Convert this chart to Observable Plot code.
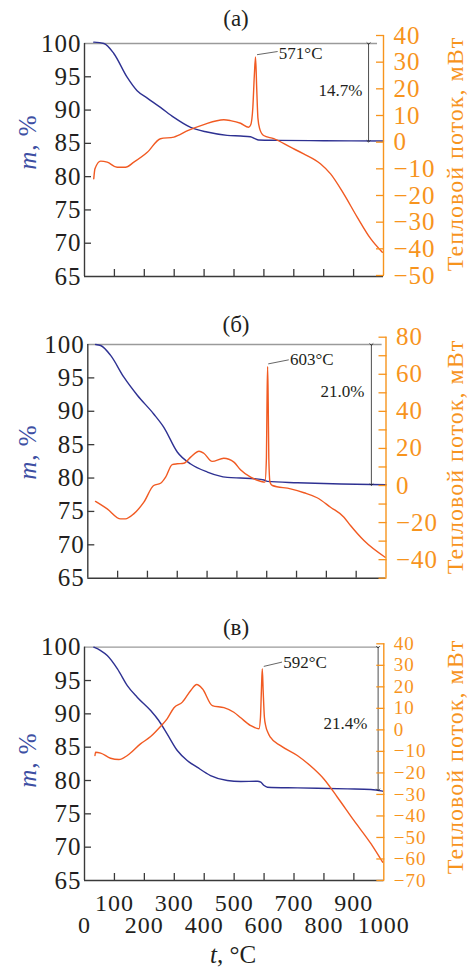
<!DOCTYPE html>
<html><head><meta charset="utf-8">
<script src="https://cdn.jsdelivr.net/npm/d3@7"></script>
<script src="https://cdn.jsdelivr.net/npm/@observablehq/plot@0.6"></script>
<style>
body{margin:0;background:#fff;}
#wrap{position:relative;width:469px;height:967px;overflow:hidden;font-family:"Liberation Serif","Times New Roman",Tinos,Times,serif;color:#231f20;}
#wrap svg{position:absolute;left:0;top:0;}
#wrap [aria-label$="tick label"] text{letter-spacing:1px;}
.lbl{position:absolute;white-space:nowrap;transform:translate(-50%,-50%);line-height:1;}
.rot{transform:translate(-50%,-50%) rotate(-90deg);}
</style></head><body><div id="wrap"></div>
<script>
// ---------- data ----------
const panelTitles = ["(а)", "(б)", "(в)"];
const massTicks = [65, 70, 75, 80, 85, 90, 95, 100];
const massInnerTicks = [70, 75, 80, 85, 90, 95];
const xTicks = [100, 200, 300, 400, 500, 600, 700, 800, 900];
const xLabelsOdd = [100, 300, 500, 700, 900];
const xLabelsEven = [0, 200, 400, 600, 800, 1000];
const heatTicksA = [-50, -40, -30, -20, -10, 0, 10, 20, 30, 40];
const heatTicksB = [-50, -40, -30, -20, -10, 0, 10, 20, 30, 40, 50, 60, 70, 80];
const heatLabelsB = [-40, -20, 0, 20, 40, 60, 80];
const heatTicksC = [-70, -60, -50, -40, -30, -20, -10, 0, 10, 20, 30, 40];
const peakLabels = ["571°C", "603°C", "592°C"];
const lossLabels = ["14.7%", "21.0%", "21.4%"];
const finalMass = [85.3, 79.0, 78.6];

// panel (а)
const tMassA = [31, 65, 98, 143, 176, 210, 254, 299, 355, 410, 477, 522, 555, 570, 582, 650, 800, 1000];
const massA  = [100.2, 100, 98.5, 94.9, 92.9, 91.8, 90.4, 88.9, 87.4, 86.7, 86.2, 86.1, 86.0, 85.7, 85.5, 85.45, 85.4, 85.35];
const tHeatA = [31, 35, 54, 76, 109, 137, 165, 210, 254, 299, 347, 399, 466, 488, 522, 549, 556, 563, 568, 572, 576, 580, 586, 599, 633, 689, 733, 789, 823, 867, 912, 957, 996];
const heatA  = [-13.7, -10.0, -7.1, -7.5, -9.4, -9.4, -7.5, -3.8, 1.3, 1.9, 4.4, 6.6, 8.4, 8.1, 7.1, 5.6, 6.5, 13, 25, 32, 20, 9, 5, 2.5, 1.3, -1.9, -4.4, -8.1, -11.9, -19.4, -28.1, -36.2, -41.3];

// panel (б)
const tMassB = [26, 43, 76, 121, 166, 221, 255, 300, 345, 401, 468, 512, 560, 591, 602, 703, 850, 1000];
const massB  = [100, 99.85, 98.4, 95.1, 92.4, 89.6, 87.6, 83.9, 82.1, 80.9, 80.1, 80.0, 79.9, 79.7, 79.5, 79.3, 79.1, 79.0];
const tHeatB = [26, 65, 110, 126, 154, 188, 221, 244, 261, 283, 300, 322, 345, 373, 389, 417, 456, 490, 512, 546, 579, 594, 599, 601, 603, 605, 607, 611, 619, 680, 725, 769, 814, 859, 881, 926, 997];
const heatB  = [-8.6, -12.6, -18.0, -18.0, -15.3, -9.0, 0.0, 1.2, 4.5, 11.3, 11.7, 12.0, 15.3, 18.5, 17.4, 13.0, 14.7, 12.6, 8.5, 4.5, 2.3, 1.8, 15, 45, 64.2, 45, 15, 1.8, 0, -1.8, -3.9, -6.6, -11.7, -17.1, -21.6, -29.7, -38.7];

// panel (в)
const tMassC = [31, 54, 76, 110, 143, 176, 221, 248, 276, 310, 343, 376, 421, 477, 522, 578, 589, 600, 611, 712, 879, 957, 996];
const massC  = [100, 99.5, 98.75, 96.75, 94.25, 92.5, 90.5, 89.0, 87.0, 84.5, 83.0, 82.0, 80.75, 80.0, 79.85, 79.9, 79.75, 79.25, 79.0, 78.9, 78.75, 78.65, 78.4];
const tHeatC = [35, 37, 54, 87, 115, 143, 187, 221, 254, 276, 299, 327, 355, 375, 394, 427, 466, 499, 522, 555, 583, 588, 591, 594, 597, 601, 606, 612, 621, 655, 711, 766, 799, 845, 900, 957, 996];
const heatC  = [-11.9, -10.4, -10.8, -13.2, -13.8, -11.9, -6.5, -3.1, 1.6, 5.1, 10.3, 12.9, 18.3, 21.1, 19.1, 11.3, 10.3, 8.2, 5.6, 2.0, 0.5, 6, 18, 28.4, 18, 6, 1.5, -1.0, -3.4, -7.3, -11.9, -18.1, -22.7, -31.3, -42.1, -52.9, -61.5];

// ---------- layout ----------
const W = 469, H = 967;
const FONT = "'Liberation Serif', 'Times New Roman', Tinos, Times, serif";
const blue = "#2e3192", orangeLine = "#f15a22", orangeAxis = "#f7941d", axisInk = "#3a3a3a";
const fmt = d3.format("d");
const layout = [
  {left: 84, right: 383, mTop: 43, mBot: 276, hTop: 35, hBot: 275, hDomain: [-50, 40], hFont: 25,
   heatTicks: heatTicksA, heatLabels: heatTicksA, refEnd: 980, arrowT: 950, lossT: 856, lossM: 92.9,
   lead: [577, 32.8, 646, 34.0], peakText: [650, 33.1],
   title: [236, 18], leftTitle: [27, 142], rightTitle: [455, 154]},
  {left: 87.3, right: 385.5, mTop: 344, mBot: 577.7, hTop: 336.7, hBot: 577.7, hDomain: [-50, 80], hFont: 25,
   heatTicks: heatTicksB, heatLabels: heatLabelsB, refEnd: 987, arrowT: 951, lossT: 854, lossM: 92.9,
   lead: [605, 65.6, 674, 67.8], peakText: [678, 68.0],
   title: [236, 324], leftTitle: [27, 452], rightTitle: [455, 457]},
  {left: 84, right: 383.3, mTop: 646.7, mBot: 880, hTop: 643.3, hBot: 880, hDomain: [-70, 40], hFont: 19,
   heatTicks: heatTicksC, heatLabels: heatTicksC, refEnd: 985, arrowT: 981, lossT: 872, lossM: 88.5,
   lead: [599, 29.5, 660, 31.5], peakText: [664, 31.4],
   title: [236, 627], leftTitle: [27, 760], rightTitle: [455, 757]}
];
const massSeries = [[tMassA, massA], [tMassB, massB], [tMassC, massC]];
const heatSeries = [[tHeatA, heatA], [tHeatB, heatB], [tHeatC, heatC]];

const wrap = document.getElementById("wrap");
const baseStyle = {background: "transparent", fontFamily: FONT, fontSize: "25px", color: "#231f20", overflow: "visible"};

layout.forEach((L, i) => {
  const massRows = massSeries[i][0].map((t, k) => ({t, m: massSeries[i][1][k]}));
  const heatRows = heatSeries[i][0].map((t, k) => ({t, h: heatSeries[i][1][k]}));
  const bottomLabels = i === 2 ? [
    Plot.axisX({anchor: "bottom", ticks: xLabelsOdd, tickSize: 0, tickPadding: 13, tickFormat: fmt, fontSize: 24, label: null}),
    Plot.axisX({anchor: "bottom", ticks: xLabelsEven, tickSize: 0, tickPadding: 35, tickFormat: fmt, fontSize: 24, label: null})
  ] : [];
  const plotA = Plot.plot({
    width: W, height: H,
    marginLeft: L.left, marginRight: W - L.right, marginTop: L.mTop, marginBottom: H - L.mBot,
    x: {domain: [0, 1000]}, y: {domain: [65, 100]},
    style: baseStyle,
    marks: [
      Plot.ruleY([100], {x1: 0, x2: L.refEnd, stroke: "#9a9a9a", strokeWidth: 1.3}),
      Plot.line(massRows, {x: "t", y: "m", stroke: blue, strokeWidth: 1.4, curve: "monotone-x"}),
      Plot.link([{t: L.arrowT, a: 100, b: finalMass[i]}], {x1: "t", x2: "t", y1: "a", y2: "b", stroke: "#222", strokeWidth: 0.8, markerStart: "arrow", markerEnd: "arrow"}),
      Plot.text([lossLabels[i]], {x: L.lossT, y: L.lossM, text: d => d, fontSize: 17, fill: "#231f20"}),
      Plot.ruleX([0], {stroke: axisInk, strokeWidth: 1.4}),
      Plot.ruleY([65], {stroke: axisInk, strokeWidth: 1.4}),
      Plot.axisY({anchor: "left", ticks: massInnerTicks, tickSize: 7, dx: 7, fill: "none", stroke: axisInk, strokeWidth: 1.3, label: null}),
      Plot.axisY({anchor: "left", ticks: massTicks, tickSize: 0, tickPadding: 3, tickFormat: fmt, label: null}),
      Plot.axisX({anchor: "bottom", ticks: xTicks, tickSize: 7, dy: -7, fill: "none", stroke: axisInk, strokeWidth: 1.3, label: null}),
      ...bottomLabels
    ]
  });
  const plotB = Plot.plot({
    width: W, height: H,
    marginLeft: L.left, marginRight: W - L.right, marginTop: L.hTop, marginBottom: H - L.hBot,
    x: {domain: [0, 1000], axis: null}, y: {domain: L.hDomain},
    style: baseStyle,
    marks: [
      Plot.line(heatRows, {x: "t", y: "h", stroke: orangeLine, strokeWidth: 1.4, curve: "monotone-x"}),
      Plot.link([peakLabels[i]], {x1: L.lead[0], y1: L.lead[1], x2: L.lead[2], y2: L.lead[3], stroke: "#555", strokeWidth: 0.9}),
      Plot.text([peakLabels[i]], {x: L.peakText[0], y: L.peakText[1], text: d => d, textAnchor: "start", fontSize: 17, fill: "#231f20"}),
      Plot.ruleX([1000], {stroke: orangeAxis, strokeWidth: 1.4}),
      Plot.axisY({anchor: "right", ticks: L.heatTicks, tickSize: 8, dx: -8, fill: "none", stroke: orangeAxis, strokeWidth: 1.3, label: null}),
      Plot.axisY({anchor: "right", ticks: L.heatLabels, tickSize: 0, tickPadding: 10, tickFormat: fmt, fontSize: L.hFont, fill: orangeAxis, label: null})
    ]
  });
  wrap.appendChild(plotA);
  wrap.appendChild(plotB);

  const addLabel = (html, pos, cls, css) => {
    const d = document.createElement("div");
    d.className = "lbl " + cls;
    d.innerHTML = html;
    d.style.left = pos[0] + "px";
    d.style.top = pos[1] + "px";
    Object.assign(d.style, css);
    wrap.appendChild(d);
  };
  addLabel(panelTitles[i], L.title, "", {fontSize: "23px"});
  addLabel("<i>m</i>, %", L.leftTitle, "rot", {fontSize: "25px", color: "#3d4fa3", letterSpacing: "1px"});
  addLabel("Тепловой поток, мВт", L.rightTitle, "rot", {fontSize: "24px", color: orangeAxis, letterSpacing: "1px"});
});
const xt = document.createElement("div");
xt.className = "lbl";
xt.innerHTML = "<i>t</i>, °C";
xt.style.left = "233px"; xt.style.top = "954px"; xt.style.fontSize = "25px";
wrap.appendChild(xt);
</script></body></html>
